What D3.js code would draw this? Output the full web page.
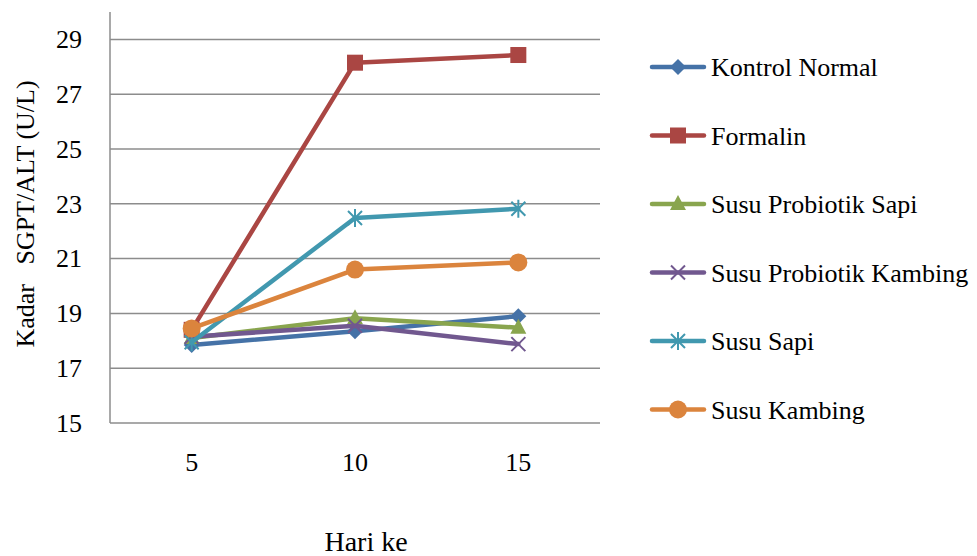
<!DOCTYPE html>
<html>
<head>
<meta charset="utf-8">
<script src="https://cdn.jsdelivr.net/npm/d3@7"></script>
<style>
  html, body { margin: 0; padding: 0; background: #fff; }
  svg { display: block; }
  svg text { font-family: "Liberation Serif", "Times New Roman", serif; fill: #000; }
</style>
</head>
<body>
<svg id="chart" width="977" height="556"></svg>
<script>
// Days of observation
const days = ["5", "10", "15"];

// SGPT/ALT (U/L) per group
const kontrolNormal        = [17.85, 18.35, 18.9];
const formalin             = [18.4, 28.15, 28.43];
const susuProbiotikSapi    = [18.1, 18.82, 18.48];
const susuProbiotikKambing = [18.15, 18.55, 17.88];
const susuSapi             = [17.95, 22.48, 22.82];
const susuKambing          = [18.45, 20.6, 20.86];

const yTicks = [15, 17, 19, 21, 23, 25, 27, 29];

const seriesNames  = ["Kontrol Normal", "Formalin", "Susu Probiotik Sapi",
                      "Susu Probiotik Kambing", "Susu Sapi", "Susu Kambing"];
const seriesValues = [kontrolNormal, formalin, susuProbiotikSapi,
                      susuProbiotikKambing, susuSapi, susuKambing];
const seriesColors = ["#4572A7", "#AA4643", "#89A54E", "#71588F", "#4198AF", "#DB843D"];
const seriesMarkers = ["diamond", "square", "triangle", "x", "asterisk", "circle"];

const FONT = 26;
const svg = d3.select("#chart");
const plot = { left: 110, right: 600, top: 12, bottom: 423 };

const x = d3.scaleBand().domain(days).range([plot.left, plot.right]);
const y = d3.scaleLinear().domain([15, 30]).range([plot.bottom, plot.top]);
const cx = d => x(d) + x.bandwidth() / 2;

// Horizontal gridlines
svg.append("g")
  .selectAll("line")
  .data(yTicks.filter(t => t > 15))
  .join("line")
  .attr("x1", plot.left).attr("x2", plot.right)
  .attr("y1", d => y(d)).attr("y2", d => y(d))
  .attr("stroke", "#8c8c8c").attr("stroke-width", 1.5);

// Y axis
const yAxis = svg.append("g")
  .attr("transform", `translate(${plot.left},0)`)
  .call(d3.axisLeft(y).tickValues(yTicks).tickSize(0).tickPadding(28));
yAxis.attr("font-family", null).attr("font-size", null);
yAxis.select(".domain").remove();
yAxis.selectAll("text").attr("font-size", FONT).attr("fill", "#000");

// X axis
const xAxis = svg.append("g")
  .attr("transform", `translate(0,${plot.bottom})`)
  .call(d3.axisBottom(x).tickSize(0).tickPadding(30));
xAxis.attr("font-family", null).attr("font-size", null);
xAxis.select(".domain").remove();
xAxis.selectAll("text").attr("font-size", FONT).attr("fill", "#000");

// Axis frame lines
svg.append("line")
  .attr("x1", plot.left).attr("x2", plot.left)
  .attr("y1", plot.top).attr("y2", plot.bottom)
  .attr("stroke", "#8c8c8c").attr("stroke-width", 1.5);
svg.append("line")
  .attr("x1", plot.left).attr("x2", plot.right)
  .attr("y1", plot.bottom).attr("y2", plot.bottom)
  .attr("stroke", "#8c8c8c").attr("stroke-width", 1.5);

// Axis titles
svg.append("text")
  .attr("transform", `translate(34,214) rotate(-90)`)
  .attr("text-anchor", "middle")
  .attr("font-size", FONT)
  .style("white-space", "pre")
  .text("Kadar   SGPT/ALT (U/L)");

svg.append("text")
  .attr("x", 366)
  .attr("y", 551)
  .attr("text-anchor", "middle")
  .attr("font-size", 28)
  .text("Hari ke");

// Marker drawing
function drawMarker(g, type, color, px, py) {
  if (type === "diamond") {
    g.append("path").attr("d", `M${px},${py - 8}L${px + 8},${py}L${px},${py + 8}L${px - 8},${py}Z`)
      .attr("fill", color);
  } else if (type === "square") {
    g.append("rect").attr("x", px - 8).attr("y", py - 8).attr("width", 16).attr("height", 16)
      .attr("fill", color);
  } else if (type === "triangle") {
    g.append("path").attr("d", `M${px},${py - 9}L${px + 8},${py + 6}L${px - 8},${py + 6}Z`)
      .attr("fill", color);
  } else if (type === "x") {
    g.append("path").attr("d", `M${px - 7},${py - 7}L${px + 7},${py + 7}M${px + 7},${py - 7}L${px - 7},${py + 7}`)
      .attr("stroke", color).attr("stroke-width", 2);
  } else if (type === "asterisk") {
    g.append("path").attr("d",
      `M${px - 7},${py - 7}L${px + 7},${py + 7}M${px + 7},${py - 7}L${px - 7},${py + 7}M${px},${py - 9}L${px},${py + 9}`)
      .attr("stroke", color).attr("stroke-width", 2);
  } else if (type === "circle") {
    g.append("circle").attr("cx", px).attr("cy", py).attr("r", 9).attr("fill", color);
  }
}

const line = d3.line().x((d, i) => cx(days[i])).y(d => y(d));

seriesValues.forEach((vals, s) => {
  const g = svg.append("g");
  g.append("path")
    .attr("d", line(vals))
    .attr("fill", "none")
    .attr("stroke", seriesColors[s])
    .attr("stroke-width", 4.5)
    .attr("stroke-linejoin", "round")
    .attr("stroke-linecap", "round");
  vals.forEach((v, i) => drawMarker(g, seriesMarkers[s], seriesColors[s], cx(days[i]), y(v)));
});

// Legend
const legend = svg.append("g");
seriesNames.forEach((name, s) => {
  const ly = 67 + s * 68.5;
  const g = legend.append("g");
  g.append("line")
    .attr("x1", 652).attr("x2", 704)
    .attr("y1", ly).attr("y2", ly)
    .attr("stroke", seriesColors[s]).attr("stroke-width", 4.5)
    .attr("stroke-linecap", "round");
  drawMarker(g, seriesMarkers[s], seriesColors[s], 678, ly);
  g.append("text")
    .attr("x", 711).attr("y", ly + 9)
    .attr("font-size", FONT)
    .text(name);
});
</script>
</body>
</html>
